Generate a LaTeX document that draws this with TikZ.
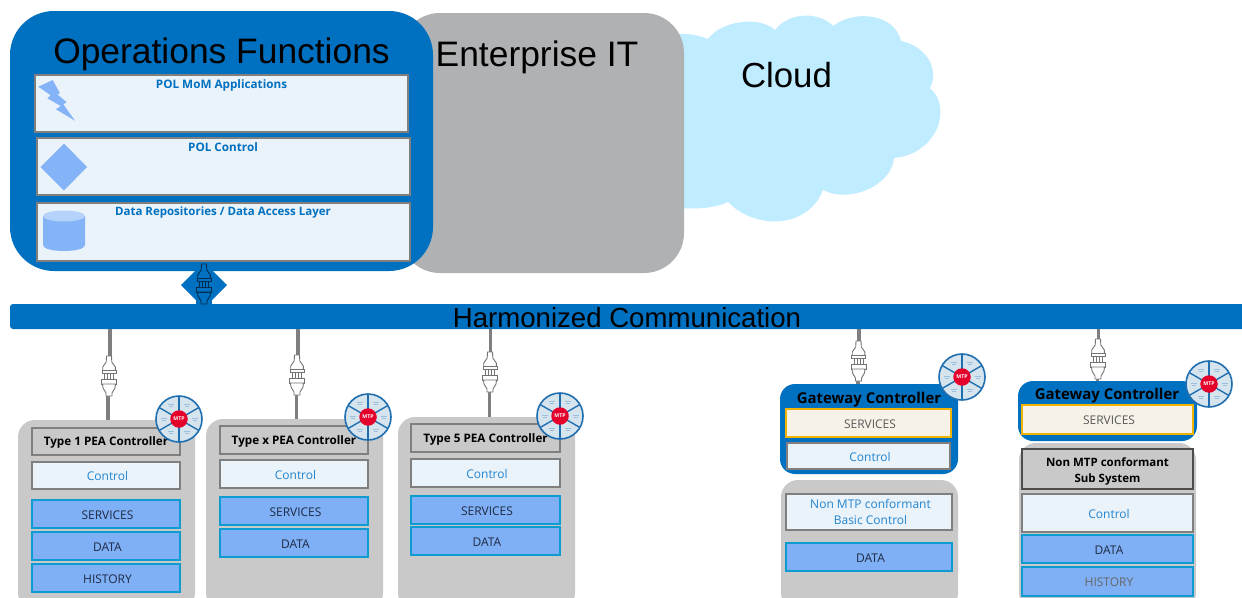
\documentclass[tikz,border=0pt]{standalone}
\usepackage{fontspec}
\setmainfont{Open Sans}
\newfontfamily\arialf{Liberation Sans}
\usetikzlibrary{shapes.geometric}
\definecolor{opblue}{HTML}{0070C0}
\definecolor{entgray}{HTML}{B0B1B3}
\definecolor{cloudc}{HTML}{BFECFF}
\definecolor{panel}{HTML}{EAF2FA}
\definecolor{iconb}{HTML}{84B4F7}
\definecolor{contg}{HTML}{C9C9C9}
\definecolor{edgeg}{HTML}{7F7F7F}
\definecolor{blockb}{HTML}{7FB0F5}
\definecolor{blocke}{HTML}{0E9BD0}
\definecolor{darkt}{HTML}{1F2A44}
\definecolor{ctrlt}{HTML}{2285CF}
\definecolor{servf}{HTML}{F6F2E8}
\definecolor{serve}{HTML}{F0B400}
\definecolor{wheelf}{HTML}{D6E4EE}
\definecolor{wheele}{HTML}{1F6FB0}
\definecolor{mtpred}{HTML}{E4002B}
\newcommand\bx[7]{%
  \pgfmathsetmacro\bxw{#4-#2}\pgfmathsetmacro\bxh{#5-#3}%
  \node[#6,minimum width=\bxw pt,minimum height=\bxh pt,anchor=north west] (#1) at (#2,#3) {#7};}
\newcommand\fs[1]{\pgfmathsetmacro\fsb{#1*1.36}\fontsize{#1}{\fsb}\selectfont}
\newcommand\tsh{\hspace*{3pt}}
\tikzset{
  x=1pt,y=-1pt,
  base/.style={inner sep=0pt,outer sep=0pt,align=center},
  oneline/.style={text height=12pt,text depth=1.4pt},
  opsbox/.style={base,fill=opblue,rounded corners=44pt},
  entbox/.style={base,fill=entgray,rounded corners=40pt},
  busbar/.style={base,fill=opblue,rounded corners=3pt},
  polbox/.style={base,fill=panel,draw=edgeg,line width=1.4pt},
  container/.style={base,fill=contg,rounded corners=17pt},
  gateway/.style={base,fill=opblue,rounded corners=15pt},
  titlebox/.style={base,text height=10pt,text depth=1.4pt,fill=contg,draw=edgeg,line width=1.2pt,font=\fs{11.7}\bfseries,text=black},
  subtitle/.style={base,fill=contg,draw=black!70,line width=1.1pt,font=\fs{11.5}\bfseries,text=black},
  ctrlbase/.style={base,fill=panel,draw=edgeg,line width=1.2pt,font=\fs{12},text=ctrlt},
  ctrlbox/.style={ctrlbase,oneline},
  blockbox/.style={base,oneline,fill=blockb,draw=blocke,line width=1.1pt,font=\fs{12},text=darkt},
  servbox/.style={base,oneline,fill=servf,draw=serve,line width=1.3pt,font=\fs{12},text=black!65},
  heading/.style={inner sep=0pt,font=\arialf\fs{35.4},text=black},
  polhead/.style={inner sep=0pt,font=\fs{11.7}\bfseries,text=opblue},
  gwhead/.style={inner sep=0pt,font=\fs{14.9}\bfseries,text=black},
  cable/.style={draw=edgeg,line width=3.6pt},
  plug/.pic={
    \path[pic actions] (-2.5,-20)--(2.5,-20)--(2.8,-14)--(6.3,-9)--(6.3,-5.5)--(-6.3,-5.5)--(-6.3,-9)--(-2.8,-14)--cycle;
    \path[pic actions] (-7,-5.5) rectangle (7,-3);
    \path[pic actions] (-4.5,-3) rectangle (-1.5,3);
    \path[pic actions] (1.5,-3) rectangle (4.5,3);
    \path[pic actions] (-7.5,3) rectangle (7.5,8);
    \path[pic actions] (-6.5,8)--(6.5,8)--(6,12)--(3,17)--(3,20)--(-3,20)--(-3,17)--(-6,12)--cycle;
  },
  wheel/.pic={
    \fill[wheelf] (0,0) circle (23);
    \foreach \a in {60,0,-60,-120,180,120}{
      \draw[wheele!45,line width=.6pt] (\a:15.5)++(-3,-1)--++(6,0);
      \draw[wheele!45,line width=.6pt] (\a:15.5)++(-2,1)--++(4,0);
    }
    \foreach \a in {90,30,-30,-90,150,210}{
      \draw[wheele,line width=1.4pt] (0,0)--(\a:23);
    }
    \draw[wheele,line width=1.6pt] (0,0) circle (23);
    \node[circle,fill=mtpred,minimum size=17.5pt,inner sep=0pt,text=white,font=\fs{5.2}\bfseries] (mtp) at (0,0) {MTP};
  }
}
\begin{document}
\begin{tikzpicture}
\useasboundingbox (0,0) rectangle (1242,597);
\clip (0,0) rectangle (1242,597);
\fill[white] (0,0) rectangle (1242,597);

% cloud
\fill[cloudc] (675,34) .. controls (686,33) and (698,35) .. (708,39)
  .. controls (722,20) and (760,16) .. (775,30)
  .. controls (790,11) and (820,12) .. (833,26)
  .. controls (855,9) and (895,14) .. (901,41)
  .. controls (925,46) and (940,68) .. (930,88)
  .. controls (953,108) and (937,154) .. (894,158)
  .. controls (892,185) and (850,204) .. (823,190)
  .. controls (808,229) and (755,230) .. (728,202)
  .. controls (712,209) and (695,209) .. (675,208) -- cycle;

\bx{ent}{400}{13}{684}{273}{entbox}{}
\node[base] (linkdia) at (204,285) [diamond,fill=opblue,minimum width=46pt,minimum height=46pt] {};
\fill[opblue] (196,298) rectangle (212,305);
\bx{ops}{10}{11}{433}{271}{opsbox}{}
\bx{bus}{10}{304}{1250}{329}{busbar}{}
\pic[draw=black!60!opblue,line width=.9pt] at (204,284) {plug};

\node[heading] (opst) at (221.5,54.5) {Operations Functions};
\node[heading] (entt) at (537,57) {Enterprise IT};
\node[heading,font=\arialf\fs{34.8}] (cloudt) at (786.5,75) {Cloud};
\node[inner sep=0pt,font=\arialf\fs{27.6},text=black] (bust) at (627,318) {Harmonized Communication};

\bx{pol1}{35}{75}{408}{132}{polbox}{}
\bx{pol2}{37}{138}{410}{195}{polbox}{}
\bx{pol3}{37}{203}{410}{261}{polbox}{}
\node[polhead] (pol1t) at (221.5,85.5) {POL MoM Applications};
\node[polhead] (pol2t) at (223,147.5) {POL Control};
\node[polhead,font=\fs{11.5}\bfseries] (pol3t) at (223,213) {Data Repositories / Data Access Layer};

\fill[iconb] (38.3,86.7)--(52.7,80)--(60,93.3)--(57.3,94.3)--(66.7,102.3)--(63.3,104.3)--(75,120.7)--(56,109.3)--(60.7,106)--(47.3,98.3)--(50.7,95.3)--cycle;
\fill[iconb] (64,143.5)--(87,167)--(64,190.5)--(40.5,167)--cycle;
\fill[iconb] (43,216) -- (43,245) .. controls (43,253) and (85,253) .. (85,245) -- (85,216) -- cycle;
\fill[iconb!60!white] (64,216) ellipse (21 and 5.5);

% Type 1
\bx{c1}{18}{420}{195}{610}{container}{}
\bx{c1a}{32}{428}{180}{455}{titlebox}{Type 1 PEA Controller}
\bx{c1b}{32}{462}{180}{489}{ctrlbox}{\tsh Control}
\bx{c1c}{32}{500}{180}{528}{blockbox}{\tsh SERVICES}
\bx{c1d}{32}{532}{180}{560}{blockbox}{\tsh DATA}
\bx{c1e}{32}{564}{180}{592}{blockbox}{\tsh HISTORY}
% Type x
\bx{c2}{206}{419}{383}{610}{container}{}
\bx{c2a}{220}{426}{368}{454}{titlebox}{Type x PEA Controller}
\bx{c2b}{220}{460}{368}{488}{ctrlbox}{\tsh Control}
\bx{c2c}{220}{497}{368}{525}{blockbox}{\tsh SERVICES}
\bx{c2d}{220}{529}{368}{557}{blockbox}{\tsh DATA}
% Type 5
\bx{c3}{398}{417}{575}{610}{container}{}
\bx{c3a}{411}{424}{560}{452}{titlebox}{Type 5 PEA Controller}
\bx{c3b}{411}{459}{560}{487}{ctrlbox}{\tsh Control}
\bx{c3c}{411}{496}{560}{524}{blockbox}{\tsh SERVICES}
\bx{c3d}{411}{527}{560}{555}{blockbox}{\tsh DATA}
% Gateway 1
\bx{g1}{780}{384}{958}{474}{gateway}{}
\node[gwhead] (g1t) at (869,400) {Gateway Controller};
\bx{g1a}{786}{409}{951}{437}{servbox}{\tsh SERVICES}
\bx{g1b}{787}{443}{950}{469}{ctrlbox}{\tsh Control}
\bx{c4}{781}{480}{958}{610}{container}{}
\bx{c4a}{786}{494}{952}{530}{ctrlbase}{\tsh Non MTP conformant\\\tsh Basic Control}
\bx{c4b}{786}{543}{952}{571}{blockbox}{\tsh DATA}
% Gateway 2
\bx{g2}{1018}{381}{1197}{441}{gateway}{}
\node[gwhead] (g2t) at (1107,396) {Gateway Controller};
\bx{g2a}{1022}{405}{1193}{434}{servbox}{\tsh SERVICES}
\bx{c5}{1019}{443}{1196}{610}{container}{}
\bx{c5a}{1022}{449}{1193}{489}{subtitle}{\rule{0pt}{14pt}Non MTP conformant\\[1pt]Sub System}
\bx{c5b}{1022}{494}{1193}{532}{ctrlbox}{\tsh Control}
\bx{c5c}{1022}{535}{1193}{563}{blockbox}{\tsh DATA}
\bx{c5d}{1022}{567}{1193}{596}{blockbox,text=black!60}{\tsh HISTORY}

% cables
\coordinate (u1) at (110,360); \coordinate (d1) at (108,392);
\coordinate (u2) at (298,358); \coordinate (d2) at (296.5,390);
\coordinate (u3) at (490.5,356); \coordinate (d3) at (489.5,388);
\coordinate (u4) at (859,345); \coordinate (d4) at (858,378);
\coordinate (u5) at (1098.5,343); \coordinate (d5) at (1097.5,375);
\foreach \n/\t in {1/c1,2/c2,3/c3,4/g1,5/g2}{
  \draw[cable] (bus.south -| u\n) -- (u\n);
  \draw[cable] (d\n) -- (d\n |- \t.north);
}
\tikzset{plugw/.style={draw=black!55,fill=white,line width=.9pt}}
\pic[plugw] at (109,376) {plug};
\pic[plugw] at (297,375) {plug};
\pic[plugw] at (490,372) {plug};
\pic[plugw] at (858.5,361) {plug};
\pic[plugw] at (1098,359) {plug};

\pic (w1) at (179,419) {wheel};
\pic (w2) at (368,417) {wheel};
\pic (w3) at (560,416) {wheel};
\pic (w4) at (962,377) {wheel};
\pic (w5) at (1209,384) {wheel};
\end{tikzpicture}
\end{document}
